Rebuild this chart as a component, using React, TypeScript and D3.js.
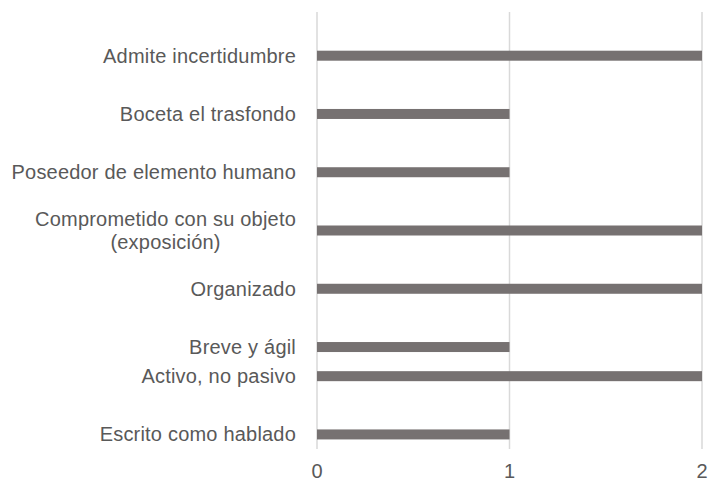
import { useEffect, useRef } from 'react'
import * as d3 from 'd3'

// categories from top to bottom, '' = empty slot in the original layout
const categories: string[] = [
  '',
  'Admite incertidumbre',
  '',
  'Boceta el trasfondo',
  '',
  'Poseedor de elemento humano',
  '',
  'Comprometido con su objeto\n(exposición)',
  '',
  'Organizado',
  '',
  'Breve y ágil',
  'Activo, no pasivo',
  '',
  'Escrito como hablado',
]
const values: (number | null)[] = [null, 2, null, 1, null, 1, null, 2, null, 2, null, 1, 2, null, 1]
const xTicks = [0, 1, 2]

export default function App() {
  const svgRef = useRef<SVGSVGElement>(null)

  useEffect(() => {
    if (!svgRef.current) return
    const width = 708
    const height = 481
    const svg = d3.select(svgRef.current)
    svg.selectAll('*').remove()
    svg.attr('width', width).attr('height', height)

    const textColor = '#595959'
    const font = '"Liberation Sans", Arial, sans-serif'

    const slots = categories.map((_, i) => `s${i}`)
    const y = d3.scaleBand().domain(slots).range([12, 449]).padding(0)
    const x = d3.scaleLinear().domain([0, 2]).range([317, 702])
    const barH = 10

    // gridlines
    svg
      .append('g')
      .selectAll('line')
      .data(xTicks)
      .enter()
      .append('line')
      .attr('x1', d => x(d))
      .attr('x2', d => x(d))
      .attr('y1', 12)
      .attr('y2', 449)
      .attr('stroke', '#d9d9d9')
      .attr('stroke-width', 1.5)

    // bars
    const rows = categories.map((c, i) => ({ key: slots[i], label: c, value: values[i] }))
    svg
      .append('g')
      .selectAll('rect')
      .data(rows.filter(r => r.value !== null))
      .enter()
      .append('rect')
      .attr('x', x(0))
      .attr('y', d => (y(d.key) || 0) + y.bandwidth() / 2 - barH / 2)
      .attr('width', d => x(d.value as number) - x(0))
      .attr('height', barH)
      .attr('fill', '#767171')

    // category labels (multi-line centred within a right-aligned block)
    const labels = svg.append('g').style('font-family', font).style('font-size', '20px').attr('fill', textColor)
    rows
      .filter(r => r.label)
      .forEach(r => {
        const lines = r.label.split('\n')
        const cy = (y(r.key) || 0) + y.bandwidth() / 2
        const lineH = 23
        const t = labels.append('text').attr('text-anchor', 'end').attr('letter-spacing', 0.2)
        lines.forEach((ln, j) => {
          t.append('tspan')
            .attr('x', 296)
            .attr('y', cy + (j - (lines.length - 1) / 2) * lineH)
            .attr('dy', '0.35em')
            .text(ln)
        })
        if (lines.length > 1) {
          // centre shorter lines under the widest one
          const tspans = t.selectAll<SVGTSpanElement, unknown>('tspan').nodes()
          const widths = tspans.map(n => n.getComputedTextLength())
          const maxW = d3.max(widths) || 0
          tspans.forEach((n, j) => {
            d3.select(n).attr('x', 296 - (maxW - widths[j]) / 2)
          })
        }
      })

    // x tick labels
    svg
      .append('g')
      .selectAll('text')
      .data(xTicks)
      .enter()
      .append('text')
      .attr('x', d => x(d))
      .attr('y', 478)
      .attr('text-anchor', 'middle')
      .style('font-family', font)
      .style('font-size', '20px')
      .attr('fill', textColor)
      .text(d => d)
  }, [])

  return (
    <div style={{ position: 'fixed', left: 0, top: 0, background: '#fff' }}>
      <svg ref={svgRef} style={{ display: 'block' }}></svg>
    </div>
  )
}
